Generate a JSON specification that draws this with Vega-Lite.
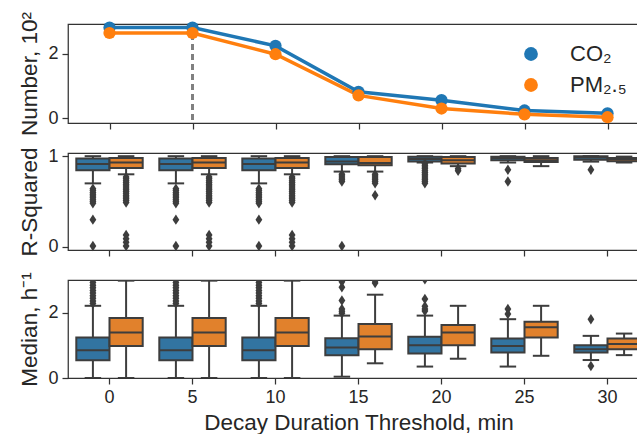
{
  "$schema": "https://vega.github.io/schema/vega-lite/v6.json",
  "padding": {"left": 18, "top": 10, "right": 0, "bottom": 0},
  "spacing": 30,
  "bounds": "flush",
  "config": {
    "font": "Liberation Sans",
    "view": {"stroke": "#333333", "strokeWidth": 1.25},
    "axis": {"labelFontSize": 18, "titleFontSize": 22.5, "labelColor": "#262626", "titleColor": "#262626", "titleFontWeight": "normal", "tickColor": "#333333", "tickWidth": 1.25, "tickSize": 6, "domainColor": "#333333", "domainWidth": 1.25, "grid": false, "labelPadding": 4, "titlePadding": 6},
    "legend": {"labelFontSize": 22, "labelColor": "#262626"}
  },
  "resolve": {"scale": {"color": "independent"}},
  "datasets": {
    "lines": [
      {"t": 0, "s": "CO₂", "n": 2.82}, {"t": 5, "s": "CO₂", "n": 2.82}, {"t": 10, "s": "CO₂", "n": 2.25}, {"t": 15, "s": "CO₂", "n": 0.82}, {"t": 20, "s": "CO₂", "n": 0.56}, {"t": 25, "s": "CO₂", "n": 0.24}, {"t": 30, "s": "CO₂", "n": 0.15},
      {"t": 0, "s": "PM₂.₅", "n": 2.65}, {"t": 5, "s": "PM₂.₅", "n": 2.65}, {"t": 10, "s": "PM₂.₅", "n": 1.99}, {"t": 15, "s": "PM₂.₅", "n": 0.71}, {"t": 20, "s": "PM₂.₅", "n": 0.30}, {"t": 25, "s": "PM₂.₅", "n": 0.12}, {"t": 30, "s": "PM₂.₅", "n": 0.03}
    ],
    "r2box": [
      {"t": 0, "s": "CO₂", "q1": 0.845, "med": 0.915, "q3": 0.975, "lo": 0.70, "hi": 1.0},
      {"t": 0, "s": "PM₂.₅", "q1": 0.87, "med": 0.93, "q3": 0.98, "lo": 0.80, "hi": 1.0},
      {"t": 5, "s": "CO₂", "q1": 0.845, "med": 0.915, "q3": 0.975, "lo": 0.70, "hi": 1.0},
      {"t": 5, "s": "PM₂.₅", "q1": 0.87, "med": 0.93, "q3": 0.98, "lo": 0.80, "hi": 1.0},
      {"t": 10, "s": "CO₂", "q1": 0.845, "med": 0.915, "q3": 0.975, "lo": 0.70, "hi": 1.0},
      {"t": 10, "s": "PM₂.₅", "q1": 0.87, "med": 0.93, "q3": 0.98, "lo": 0.80, "hi": 1.0},
      {"t": 15, "s": "CO₂", "q1": 0.91, "med": 0.94, "q3": 0.99, "lo": 0.83, "hi": 1.0},
      {"t": 15, "s": "PM₂.₅", "q1": 0.90, "med": 0.925, "q3": 0.99, "lo": 0.83, "hi": 1.0},
      {"t": 20, "s": "CO₂", "q1": 0.94, "med": 0.97, "q3": 0.995, "lo": 0.93, "hi": 1.0},
      {"t": 20, "s": "PM₂.₅", "q1": 0.92, "med": 0.955, "q3": 0.99, "lo": 0.89, "hi": 1.0},
      {"t": 25, "s": "CO₂", "q1": 0.955, "med": 0.98, "q3": 0.995, "lo": 0.93, "hi": 1.0},
      {"t": 25, "s": "PM₂.₅", "q1": 0.935, "med": 0.955, "q3": 0.98, "lo": 0.89, "hi": 1.0},
      {"t": 30, "s": "CO₂", "q1": 0.96, "med": 0.985, "q3": 1.0, "lo": 0.94, "hi": 1.0},
      {"t": 30, "s": "PM₂.₅", "q1": 0.945, "med": 0.965, "q3": 0.98, "lo": 0.93, "hi": 0.995}
    ],
    "r2out": [
      {"t": 0, "s": "CO₂", "v": 0.64}, {"t": 0, "s": "CO₂", "v": 0.62}, {"t": 0, "s": "CO₂", "v": 0.60}, {"t": 0, "s": "CO₂", "v": 0.58}, {"t": 0, "s": "CO₂", "v": 0.56}, {"t": 0, "s": "CO₂", "v": 0.54}, {"t": 0, "s": "CO₂", "v": 0.52}, {"t": 0, "s": "CO₂", "v": 0.50}, {"t": 0, "s": "CO₂", "v": 0.48}, {"t": 0, "s": "CO₂", "v": 0.30}, {"t": 0, "s": "CO₂", "v": 0.01},
      {"t": 5, "s": "CO₂", "v": 0.64}, {"t": 5, "s": "CO₂", "v": 0.62}, {"t": 5, "s": "CO₂", "v": 0.60}, {"t": 5, "s": "CO₂", "v": 0.58}, {"t": 5, "s": "CO₂", "v": 0.56}, {"t": 5, "s": "CO₂", "v": 0.54}, {"t": 5, "s": "CO₂", "v": 0.52}, {"t": 5, "s": "CO₂", "v": 0.50}, {"t": 5, "s": "CO₂", "v": 0.48}, {"t": 5, "s": "CO₂", "v": 0.30}, {"t": 5, "s": "CO₂", "v": 0.01},
      {"t": 10, "s": "CO₂", "v": 0.64}, {"t": 10, "s": "CO₂", "v": 0.62}, {"t": 10, "s": "CO₂", "v": 0.60}, {"t": 10, "s": "CO₂", "v": 0.58}, {"t": 10, "s": "CO₂", "v": 0.56}, {"t": 10, "s": "CO₂", "v": 0.54}, {"t": 10, "s": "CO₂", "v": 0.52}, {"t": 10, "s": "CO₂", "v": 0.50}, {"t": 10, "s": "CO₂", "v": 0.48}, {"t": 10, "s": "CO₂", "v": 0.30}, {"t": 10, "s": "CO₂", "v": 0.01},
      {"t": 0, "s": "PM₂.₅", "v": 0.77}, {"t": 0, "s": "PM₂.₅", "v": 0.75}, {"t": 0, "s": "PM₂.₅", "v": 0.73}, {"t": 0, "s": "PM₂.₅", "v": 0.71}, {"t": 0, "s": "PM₂.₅", "v": 0.69}, {"t": 0, "s": "PM₂.₅", "v": 0.67}, {"t": 0, "s": "PM₂.₅", "v": 0.65}, {"t": 0, "s": "PM₂.₅", "v": 0.63}, {"t": 0, "s": "PM₂.₅", "v": 0.61}, {"t": 0, "s": "PM₂.₅", "v": 0.59}, {"t": 0, "s": "PM₂.₅", "v": 0.57}, {"t": 0, "s": "PM₂.₅", "v": 0.55}, {"t": 0, "s": "PM₂.₅", "v": 0.53}, {"t": 0, "s": "PM₂.₅", "v": 0.51}, {"t": 0, "s": "PM₂.₅", "v": 0.49}, {"t": 0, "s": "PM₂.₅", "v": 0.13}, {"t": 0, "s": "PM₂.₅", "v": 0.09}, {"t": 0, "s": "PM₂.₅", "v": 0.05}, {"t": 0, "s": "PM₂.₅", "v": 0.01},
      {"t": 5, "s": "PM₂.₅", "v": 0.77}, {"t": 5, "s": "PM₂.₅", "v": 0.75}, {"t": 5, "s": "PM₂.₅", "v": 0.73}, {"t": 5, "s": "PM₂.₅", "v": 0.71}, {"t": 5, "s": "PM₂.₅", "v": 0.69}, {"t": 5, "s": "PM₂.₅", "v": 0.67}, {"t": 5, "s": "PM₂.₅", "v": 0.65}, {"t": 5, "s": "PM₂.₅", "v": 0.63}, {"t": 5, "s": "PM₂.₅", "v": 0.61}, {"t": 5, "s": "PM₂.₅", "v": 0.59}, {"t": 5, "s": "PM₂.₅", "v": 0.57}, {"t": 5, "s": "PM₂.₅", "v": 0.55}, {"t": 5, "s": "PM₂.₅", "v": 0.53}, {"t": 5, "s": "PM₂.₅", "v": 0.51}, {"t": 5, "s": "PM₂.₅", "v": 0.49}, {"t": 5, "s": "PM₂.₅", "v": 0.13}, {"t": 5, "s": "PM₂.₅", "v": 0.09}, {"t": 5, "s": "PM₂.₅", "v": 0.05}, {"t": 5, "s": "PM₂.₅", "v": 0.01},
      {"t": 10, "s": "PM₂.₅", "v": 0.77}, {"t": 10, "s": "PM₂.₅", "v": 0.75}, {"t": 10, "s": "PM₂.₅", "v": 0.73}, {"t": 10, "s": "PM₂.₅", "v": 0.71}, {"t": 10, "s": "PM₂.₅", "v": 0.69}, {"t": 10, "s": "PM₂.₅", "v": 0.67}, {"t": 10, "s": "PM₂.₅", "v": 0.65}, {"t": 10, "s": "PM₂.₅", "v": 0.63}, {"t": 10, "s": "PM₂.₅", "v": 0.61}, {"t": 10, "s": "PM₂.₅", "v": 0.59}, {"t": 10, "s": "PM₂.₅", "v": 0.57}, {"t": 10, "s": "PM₂.₅", "v": 0.55}, {"t": 10, "s": "PM₂.₅", "v": 0.53}, {"t": 10, "s": "PM₂.₅", "v": 0.51}, {"t": 10, "s": "PM₂.₅", "v": 0.49}, {"t": 10, "s": "PM₂.₅", "v": 0.13}, {"t": 10, "s": "PM₂.₅", "v": 0.09}, {"t": 10, "s": "PM₂.₅", "v": 0.05}, {"t": 10, "s": "PM₂.₅", "v": 0.01},
      {"t": 15, "s": "CO₂", "v": 0.80}, {"t": 15, "s": "CO₂", "v": 0.78}, {"t": 15, "s": "CO₂", "v": 0.76}, {"t": 15, "s": "CO₂", "v": 0.74}, {"t": 15, "s": "CO₂", "v": 0.72}, {"t": 15, "s": "CO₂", "v": 0.01},
      {"t": 15, "s": "PM₂.₅", "v": 0.80}, {"t": 15, "s": "PM₂.₅", "v": 0.78}, {"t": 15, "s": "PM₂.₅", "v": 0.76}, {"t": 15, "s": "PM₂.₅", "v": 0.74}, {"t": 15, "s": "PM₂.₅", "v": 0.72}, {"t": 15, "s": "PM₂.₅", "v": 0.70}, {"t": 15, "s": "PM₂.₅", "v": 0.57},
      {"t": 20, "s": "CO₂", "v": 0.92}, {"t": 20, "s": "CO₂", "v": 0.90}, {"t": 20, "s": "CO₂", "v": 0.88}, {"t": 20, "s": "CO₂", "v": 0.86}, {"t": 20, "s": "CO₂", "v": 0.84}, {"t": 20, "s": "CO₂", "v": 0.82}, {"t": 20, "s": "CO₂", "v": 0.80}, {"t": 20, "s": "CO₂", "v": 0.78}, {"t": 20, "s": "CO₂", "v": 0.76}, {"t": 20, "s": "CO₂", "v": 0.74}, {"t": 20, "s": "CO₂", "v": 0.72}, {"t": 20, "s": "CO₂", "v": 0.70},
      {"t": 20, "s": "PM₂.₅", "v": 0.86}, {"t": 20, "s": "PM₂.₅", "v": 0.84},
      {"t": 25, "s": "CO₂", "v": 0.85}, {"t": 25, "s": "CO₂", "v": 0.72},
      {"t": 30, "s": "CO₂", "v": 0.85}
    ],
    "medbox": [
      {"t": 0, "s": "CO₂", "q1": 0.54, "med": 0.85, "q3": 1.24, "lo": 0.0, "hi": 2.21},
      {"t": 0, "s": "PM₂.₅", "q1": 0.98, "med": 1.39, "q3": 1.84, "lo": 0.0, "hi": 2.98},
      {"t": 5, "s": "CO₂", "q1": 0.54, "med": 0.85, "q3": 1.24, "lo": 0.0, "hi": 2.21},
      {"t": 5, "s": "PM₂.₅", "q1": 0.98, "med": 1.39, "q3": 1.84, "lo": 0.0, "hi": 2.98},
      {"t": 10, "s": "CO₂", "q1": 0.54, "med": 0.85, "q3": 1.24, "lo": 0.0, "hi": 2.21},
      {"t": 10, "s": "PM₂.₅", "q1": 0.98, "med": 1.39, "q3": 1.84, "lo": 0.0, "hi": 2.98},
      {"t": 15, "s": "CO₂", "q1": 0.70, "med": 0.93, "q3": 1.22, "lo": 0.04, "hi": 1.91},
      {"t": 15, "s": "PM₂.₅", "q1": 0.88, "med": 1.27, "q3": 1.65, "lo": 0.45, "hi": 2.55},
      {"t": 20, "s": "CO₂", "q1": 0.75, "med": 1.0, "q3": 1.26, "lo": 0.35, "hi": 1.91},
      {"t": 20, "s": "PM₂.₅", "q1": 1.0, "med": 1.39, "q3": 1.62, "lo": 0.59, "hi": 2.21},
      {"t": 25, "s": "CO₂", "q1": 0.78, "med": 0.98, "q3": 1.21, "lo": 0.35, "hi": 1.80},
      {"t": 25, "s": "PM₂.₅", "q1": 1.24, "med": 1.55, "q3": 1.72, "lo": 0.68, "hi": 2.21},
      {"t": 30, "s": "CO₂", "q1": 0.78, "med": 0.88, "q3": 1.0, "lo": 0.55, "hi": 1.29},
      {"t": 30, "s": "PM₂.₅", "q1": 0.88, "med": 1.04, "q3": 1.21, "lo": 0.70, "hi": 1.36}
    ],
    "medout": [
      {"t": 0, "s": "CO₂", "v": 2.28}, {"t": 0, "s": "CO₂", "v": 2.36}, {"t": 0, "s": "CO₂", "v": 2.44}, {"t": 0, "s": "CO₂", "v": 2.52}, {"t": 0, "s": "CO₂", "v": 2.60}, {"t": 0, "s": "CO₂", "v": 2.68}, {"t": 0, "s": "CO₂", "v": 2.76}, {"t": 0, "s": "CO₂", "v": 2.84}, {"t": 0, "s": "CO₂", "v": 2.92}, {"t": 0, "s": "CO₂", "v": 3.0},
      {"t": 5, "s": "CO₂", "v": 2.28}, {"t": 5, "s": "CO₂", "v": 2.36}, {"t": 5, "s": "CO₂", "v": 2.44}, {"t": 5, "s": "CO₂", "v": 2.52}, {"t": 5, "s": "CO₂", "v": 2.60}, {"t": 5, "s": "CO₂", "v": 2.68}, {"t": 5, "s": "CO₂", "v": 2.76}, {"t": 5, "s": "CO₂", "v": 2.84}, {"t": 5, "s": "CO₂", "v": 2.92}, {"t": 5, "s": "CO₂", "v": 3.0},
      {"t": 10, "s": "CO₂", "v": 2.28}, {"t": 10, "s": "CO₂", "v": 2.36}, {"t": 10, "s": "CO₂", "v": 2.44}, {"t": 10, "s": "CO₂", "v": 2.52}, {"t": 10, "s": "CO₂", "v": 2.60}, {"t": 10, "s": "CO₂", "v": 2.68}, {"t": 10, "s": "CO₂", "v": 2.76}, {"t": 10, "s": "CO₂", "v": 2.84}, {"t": 10, "s": "CO₂", "v": 2.92}, {"t": 10, "s": "CO₂", "v": 3.0},
      {"t": 15, "s": "CO₂", "v": 1.98}, {"t": 15, "s": "CO₂", "v": 2.04}, {"t": 15, "s": "CO₂", "v": 2.11}, {"t": 15, "s": "CO₂", "v": 2.37}, {"t": 15, "s": "CO₂", "v": 2.78}, {"t": 15, "s": "CO₂", "v": 2.95},
      {"t": 15, "s": "PM₂.₅", "v": 2.91}, {"t": 15, "s": "PM₂.₅", "v": 2.98},
      {"t": 20, "s": "CO₂", "v": 2.05}, {"t": 20, "s": "CO₂", "v": 2.11}, {"t": 20, "s": "CO₂", "v": 2.20}, {"t": 20, "s": "CO₂", "v": 2.42}, {"t": 20, "s": "CO₂", "v": 3.02},
      {"t": 25, "s": "CO₂", "v": 1.96}, {"t": 25, "s": "CO₂", "v": 2.11},
      {"t": 30, "s": "CO₂", "v": 1.80}, {"t": 30, "s": "CO₂", "v": 0.37}
    ]
  },
  "vconcat": [
    {
      "width": 581,
      "height": 99,
      "data": {"name": "lines"},
      "encoding": {
        "x": {"field": "t", "type": "ordinal", "scale": {"type": "point", "padding": 0.5}, "axis": {"labels": false, "title": null, "domain": false}}
      },
      "layer": [
        {
          "mark": {"type": "rule", "color": "#808080", "strokeWidth": 1.5, "strokeDash": [6, 4]},
          "encoding": {"x": {"datum": 5, "type": "ordinal"}}
        },
        {
          "mark": {"type": "line", "strokeWidth": 3.5},
          "encoding": {
            "y": {"field": "n", "type": "quantitative", "scale": {"domain": [-0.15, 2.93], "nice": false, "zero": false}, "axis": {"values": [0, 2], "format": "d", "title": "Number, 10²", "domain": false}},
            "stroke": {"field": "s", "type": "nominal", "scale": {"domain": ["CO₂", "PM₂.₅"], "range": ["#1f77b4", "#ff7f0e"]}, "legend": null}
          }
        },
        {
          "mark": {"type": "point", "filled": true, "size": 150, "opacity": 1},
          "encoding": {
            "y": {"field": "n", "type": "quantitative"},
            "color": {"field": "s", "type": "nominal", "scale": {"domain": ["CO₂", "PM₂.₅"], "range": ["#1f77b4", "#ff7f0e"]},
              "legend": {"title": null, "orient": "none", "legendX": 452, "legendY": 19, "padding": 0, "symbolType": "circle", "symbolSize": 190, "symbolStrokeWidth": 0, "labelOffset": 28, "rowPadding": 9, "labelFontSize": 22}}
          }
        }
      ]
    },
    {
      "width": 581,
      "height": 97,
      "encoding": {
        "x": {"field": "t", "type": "ordinal", "scale": {"type": "band", "paddingInner": 0, "paddingOuter": 0}, "axis": {"labels": false, "title": null, "domain": false}},
        "xOffset": {"field": "s", "type": "nominal", "scale": {"domain": ["CO₂", "PM₂.₅"], "paddingInner": 0, "paddingOuter": 0.25}}
      },
      "layer": [
        {
          "data": {"name": "r2box"},
          "mark": {"type": "rule", "color": "#3d3d3d", "strokeWidth": 2},
          "encoding": {
            "y": {"field": "lo", "type": "quantitative", "scale": {"domain": [-0.035, 1.035], "nice": false, "zero": false}, "axis": {"values": [0, 1], "format": "d", "title": "R-Squared", "domain": false}},
            "y2": {"field": "hi"}
          }
        },
        {
          "data": {"name": "r2box"},
          "mark": {"type": "tick", "orient": "horizontal", "size": 16.5, "thickness": 2, "color": "#3d3d3d", "opacity": 1},
          "encoding": {"y": {"field": "lo", "type": "quantitative"}}
        },
        {
          "data": {"name": "r2box"},
          "mark": {"type": "tick", "orient": "horizontal", "size": 16.5, "thickness": 2, "color": "#3d3d3d", "opacity": 1},
          "encoding": {"y": {"field": "hi", "type": "quantitative"}}
        },
        {
          "data": {"name": "r2box"},
          "mark": {"type": "bar", "stroke": "#3d3d3d", "strokeWidth": 2, "opacity": 1},
          "encoding": {
            "y": {"field": "q1", "type": "quantitative"},
            "y2": {"field": "q3"},
            "color": {"field": "s", "type": "nominal", "scale": {"domain": ["CO₂", "PM₂.₅"], "range": ["#3274a1", "#e1812c"]}, "legend": null}
          }
        },
        {
          "data": {"name": "r2box"},
          "mark": {"type": "tick", "orient": "horizontal", "size": 33, "thickness": 2, "color": "#3d3d3d", "opacity": 1},
          "encoding": {"y": {"field": "med", "type": "quantitative"}}
        },
        {
          "data": {"name": "r2out"},
          "mark": {"type": "point", "filled": true, "shape": "M0,-1L0.65,0L0,1L-0.65,0Z", "size": 110, "color": "#3d3d3d", "opacity": 1},
          "encoding": {"y": {"field": "v", "type": "quantitative"}}
        }
      ]
    },
    {
      "width": 581,
      "height": 98,
      "encoding": {
        "x": {"field": "t", "type": "ordinal", "scale": {"type": "band", "paddingInner": 0, "paddingOuter": 0}, "axis": {"labelAngle": 0, "labelPadding": 4, "title": "Decay Duration Threshold, min", "titlePadding": 5, "domain": false}},
        "xOffset": {"field": "s", "type": "nominal", "scale": {"domain": ["CO₂", "PM₂.₅"], "paddingInner": 0, "paddingOuter": 0.25}}
      },
      "layer": [
        {
          "data": {"name": "medbox"},
          "mark": {"type": "rule", "color": "#3d3d3d", "strokeWidth": 2, "clip": true},
          "encoding": {
            "y": {"field": "lo", "type": "quantitative", "scale": {"domain": [0, 3.0], "nice": false}, "axis": {"values": [0, 2], "format": "d", "title": "Median, h⁻¹", "domain": false}},
            "y2": {"field": "hi"}
          }
        },
        {
          "data": {"name": "medbox"},
          "mark": {"type": "tick", "orient": "horizontal", "size": 16.5, "thickness": 2, "color": "#3d3d3d", "opacity": 1, "clip": true},
          "encoding": {"y": {"field": "lo", "type": "quantitative"}}
        },
        {
          "data": {"name": "medbox"},
          "mark": {"type": "tick", "orient": "horizontal", "size": 16.5, "thickness": 2, "color": "#3d3d3d", "opacity": 1, "clip": true},
          "encoding": {"y": {"field": "hi", "type": "quantitative"}}
        },
        {
          "data": {"name": "medbox"},
          "mark": {"type": "bar", "stroke": "#3d3d3d", "strokeWidth": 2, "opacity": 1},
          "encoding": {
            "y": {"field": "q1", "type": "quantitative"},
            "y2": {"field": "q3"},
            "color": {"field": "s", "type": "nominal", "scale": {"domain": ["CO₂", "PM₂.₅"], "range": ["#3274a1", "#e1812c"]}, "legend": null}
          }
        },
        {
          "data": {"name": "medbox"},
          "mark": {"type": "tick", "orient": "horizontal", "size": 33, "thickness": 2, "color": "#3d3d3d", "opacity": 1},
          "encoding": {"y": {"field": "med", "type": "quantitative"}}
        },
        {
          "data": {"name": "medout"},
          "mark": {"type": "point", "filled": true, "shape": "M0,-1L0.65,0L0,1L-0.65,0Z", "size": 110, "color": "#3d3d3d", "opacity": 1, "clip": true},
          "encoding": {"y": {"field": "v", "type": "quantitative"}}
        }
      ]
    }
  ]
}
